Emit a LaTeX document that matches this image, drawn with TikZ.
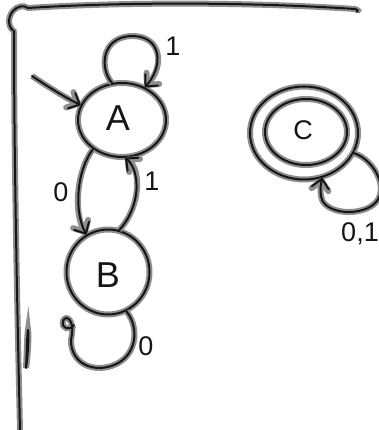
\documentclass[tikz,border=0pt]{standalone}
\usepackage{fontspec}
\setmainfont{Liberation Sans}
\usetikzlibrary{arrows.meta,shapes.geometric}
\definecolor{inkc}{HTML}{151515}
\definecolor{halo}{HTML}{8E8E8E}
\tikzset{
  ink/.style={draw=inkc, line width=2pt, line cap=round, line join=round,
    preaction={draw=halo, line width=6pt}},
  state/.style={ellipse, ink, inner sep=0pt},
  tip/.style={-{Straight Barb[length=9pt,width=17pt,line cap=round,line join=round]}},
  lbl/.style={font=\fontsize{27}{27}\selectfont, inner sep=0pt, text=inkc},
  big/.style={font=\fontsize{36}{36}\selectfont, inner sep=0pt, text=inkc},
}
\begin{document}
\begin{tikzpicture}[x=1pt,y=-1pt]
\useasboundingbox (0,0) rectangle (379,430);

% frame strokes along the top and left edges
\draw[ink] (15,32) .. controls (8,28) and (7,18) .. (13,11)
  .. controls (17,6) and (24,5) .. (28,8)
  .. controls (120,2) and (250,2) .. (355,9) .. controls (358,10) and (359,11) .. (357,12);
\draw[ink] (14,31) .. controls (14,150) and (17,300) .. (20,430);
\draw[ink] (26,368) .. controls (27,350) and (27,335) .. (28,330) .. controls (29,335) and (28,355) .. (26,368);

% states
\node[state, minimum width=88pt, minimum height=74pt] (A) at (122,120) {};
\node[big] at (118,118) {A};
\node[state, minimum width=83pt, minimum height=85pt] (B) at (108,272) {};
\node[big] at (108,275) {B};
\node[state, minimum width=108pt, minimum height=93pt] (Cacc) at (304,133) {};
\node[state, minimum width=82pt, minimum height=66pt] (C) at (306,132) {};
\node[lbl] at (303,130) {C};

% start arrow
\coordinate (start) at (32,76);
\draw[ink, tip] (start) .. controls (50,88) and (66,98) .. (A.160);

% transitions
\draw[ink, tip] (A.105) .. controls (100,70) and (100,37) .. (132,36)
  .. controls (162,36) and (164,66) .. (A.55);
\node[lbl] at (173,46) {1};

\draw[ink, tip] (A.225) .. controls (76,172) and (74,212) .. (B.120);
\node[lbl] at (61,192) {0};

\draw[ink, tip] (B.75) .. controls (142,205) and (140,170) .. (A.275);
\node[lbl] at (152,181) {1};

\coordinate (bend) at (74,325);
\draw[ink] (B.295) .. controls (142,330) and (136,366) .. (100,368)
  .. controls (76,368) and (68,348) .. (72,334)
  .. controls (74,320) and (66,314) .. (63,321)
  .. controls (61,329) and (70,331) .. (bend);
\node[lbl] at (146,346) {0};

\draw[ink, tip] (Cacc.-22) .. controls (376,160) and (394,196) .. (368,208)
  .. controls (348,217) and (322,210) .. (321,196)
  .. controls (320,188) and (321,184) .. (Cacc.-68);
\node[lbl] at (360,234) {0,1};
\end{tikzpicture}
\end{document}
